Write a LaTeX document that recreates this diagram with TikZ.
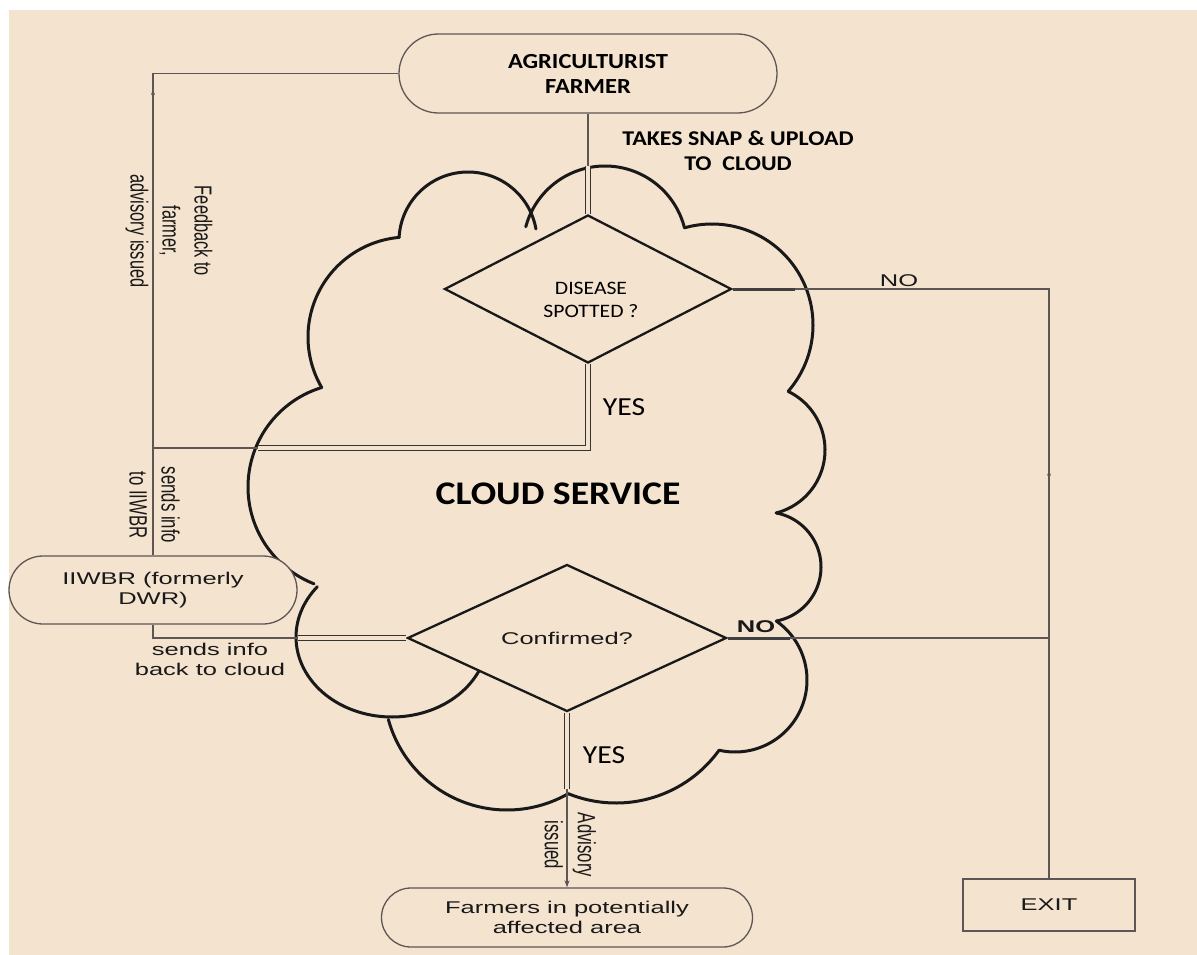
\documentclass[tikz,border=0pt]{standalone}
\usepackage{fontspec}
\setmainfont{Liberation Sans}
\newfontfamily\calfont[FakeStretch=1.14]{Carlito}
\newfontfamily\widefont[FakeStretch=1.5]{Liberation Sans}
\usetikzlibrary{shapes.geometric,shapes.misc,arrows.meta,decorations.markings,calc}
\definecolor{bg}{HTML}{F4E3CF}
\definecolor{ln}{HTML}{5E5654}
\newcommand\cloudell[6]{\draw[cloudline] plot[domain=#5:#6, samples=80] ({#1+#3*cos(\x)},{#2+#4*sin(\x)});}
\begin{document}
\begin{tikzpicture}[x=1pt,y=-1pt,
  conn/.style={draw=ln, line width=1.4pt},
  cloudline/.style={draw=black!90, line width=3pt, line cap=round, line join=round},
  innerline/.style={draw=black!80, line width=1.1pt, double=bg, double distance=3.5pt},
  term/.style={rounded rectangle, draw=ln, line width=1.3pt, fill=bg, inner sep=0pt, align=center},
  decision/.style={diamond, draw=black!90, line width=2.3pt, fill=bg, inner sep=0pt, align=center},
  wtext/.style={font={\widefont\fontsize{17}{20}\selectfont}, text=black!90, align=center},
  rtext/.style={rotate=-90, text=black!90},
  midarrow/.style={postaction={decorate}, decoration={markings, mark=at position #1 with {\arrow{Stealth[length=6pt,width=4pt]}}}}
]
\useasboundingbox (0,0) rectangle (1197,955);
\fill[white] (0,0) rectangle (1197,955);
\fill[bg] (9,10) rectangle (1197,955);

% cloud
\cloudell{408}{337}{100}{100}{149.7}{265}
\cloudell{468}{241}{69}{69}{183}{350}
\cloudell{605}{248}{82}{82}{195}{345.7}
\cloudell{712}{325}{101}{101}{254.2}{401}
\cloudell{760}{450}{65}{65}{295.7}{435.6}
\cloudell{766}{567}{55}{55}{280.7}{439.2}
\cloudell{735}{680}{72}{72}{305}{462.8}
\cloudell{616}{676}{127}{127}{35.8}{112.1}
\cloudell{507}{687}{123}{123}{60.2}{164.7}
\cloudell{392}{637}{96}{80}{15}{219}
\cloudell{352}{487}{104}{104}{111.4}{253.1}

% nodes
\node[term, minimum width=378, minimum height=79,
      font={\calfont\bfseries\fontsize{21.5}{25}\selectfont}] (farmer) at (588,73.5) {AGRICULTURIST\\FARMER};
\node[term, minimum width=288, minimum height=68, wtext] (iiwbr) at (153,590) {IIWBR (formerly\\DWR)};
\node[term, minimum width=371, minimum height=59, wtext] (farmers) at (567,917.5) {Farmers in potentially\\affected area};
\node[draw=ln, line width=1.3pt, fill=bg, minimum width=172, minimum height=52, inner sep=0pt, wtext] (exit) at (1049,905) {EXIT};
\node[decision, minimum width=287, minimum height=148] (d1) at (588,289) {};
\node[decision, minimum width=319, minimum height=147, wtext] (d2) at (567,638) {Confirmed?};

% texts
\node[font={\calfont\fontsize{19}{23}\selectfont}, align=center] (d1t) at (591,300) {DISEASE\\SPOTTED ?};
\node[font={\calfont\bfseries\fontsize{21}{25}\selectfont}, align=center] (snap) at (738,151) {TAKES SNAP \& UPLOAD\\TO\ \ CLOUD};
\node[font={\calfont\bfseries\fontsize{33}{40}\selectfont}] (cs) at (558,494) {CLOUD SERVICE};
\node[wtext] (no1) at (899,281) {NO};
\node[wtext, font={\widefont\bfseries\fontsize{17}{20}\selectfont}] (no2) at (756,627) {NO};
\node[font={\calfont\fontsize{26}{30}\selectfont}] (yes1) at (624,407) {YES};
\node[font={\calfont\fontsize{26}{30}\selectfont}] (yes2) at (604,755) {YES};
\node[wtext] (back) at (210,659) {sends info\\back to cloud};
\node[rtext] (fb) at (169,231) {\scalebox{1}[1.5]{\fontsize{16.4}{21.3}\selectfont\begin{tabular}{@{}c@{}}Feedback to\\farmer,\\advisory issued\end{tabular}}};
\node[rtext] (snd) at (152,505) {\scalebox{1}[1.5]{\fontsize{16.7}{21.3}\selectfont\begin{tabular}{@{}c@{}}sends info\\to IIWBR\end{tabular}}};
\node[rtext] (adv) at (568,845) {\scalebox{1}[1.5]{\fontsize{16.7}{22}\selectfont\begin{tabular}{@{}c@{}}Advisory\\issued\end{tabular}}};

% connectors
\coordinate (jy) at (153,448);
\coordinate (yedge) at (258,448);
\coordinate (d2ledge) at (298,638);
\draw[conn, midarrow=359pt] (jy) -- (jy |- farmer.west) -- (farmer.west);
\draw[conn] (farmer.south) -- (d1.north);
\draw[conn, midarrow=507pt] (d1.east) -- (d1.east -| exit.north) -- (exit.north);
\draw[conn, midarrow=40pt] (d1.south) -- (d1.south |- jy) -- (jy);
\draw[conn] (jy) -- (iiwbr.north);
\draw[conn] (iiwbr.south) -- (iiwbr.south |- d2.west) -- (d2.west);
\draw[conn] (d2.east) -- (d2.east -| exit.north);
\draw[conn, -{Stealth[length=7pt,width=5pt]}, midarrow=36pt] (d2.south) -- (farmers.north);

% doubled parts of the connectors inside the cloud
\draw[innerline] (d1.north) -- ++(0,-48);
\draw[innerline] (d1.south) -- (d1.south |- yedge) -- (yedge);
\draw[innerline] (d2.west) -- (d2ledge);
\draw[innerline] (d2.south) -- ++(0,76);
\draw[draw=black!75, line width=3pt] (d1.east) -- ++(62,0);
\draw[draw=black!75, line width=3pt] (d2.east) -- ++(62,0);
\end{tikzpicture}
\end{document}
